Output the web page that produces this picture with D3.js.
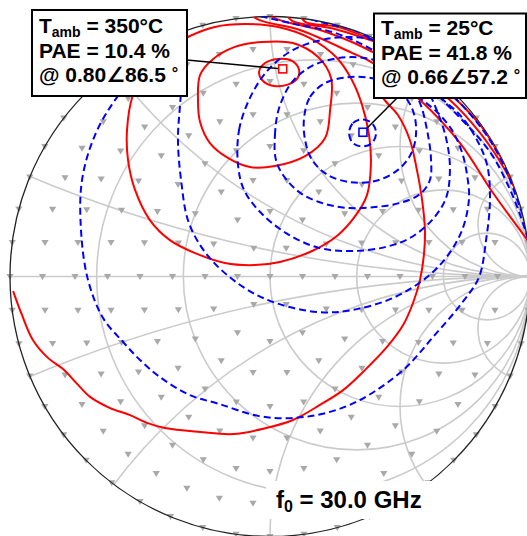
<!DOCTYPE html>
<html>
<head>
<meta charset="utf-8">
<script src="https://cdn.jsdelivr.net/npm/d3@7"></script>
<style>
  html, body { margin: 0; padding: 0; background: #fff; }
  svg { display: block; }
  text { font-family: "Liberation Sans", Arial, "DejaVu Sans", sans-serif; font-weight: bold; fill: #000; }
</style>
</head>
<body>
<svg id="chart" width="527" height="536"></svg>
<script>
// Smith chart grid (normalised resistance circles and reactance arcs)
const resistanceValues = [0.2, 0.5, 1, 2, 5];
const reactanceValues = [0.2, 0.5, 1, 2, 5];

// Load-pull tuner states: |Γ| of each ring and the number of states on it
const tunerRingMag = [0, 0.125, 0.25, 0.375, 0.5, 0.625, 0.75, 0.875, 1.0];
const tunerRingCount = [1, 6, 12, 18, 24, 30, 36, 42, 48];

// Optimum load reflection coefficients (|Γ|, angle in degrees) and their PAE
const ambientTemps = [350, 25];
const optimumMag = [0.80, 0.66];
const optimumAngle = [86.5, 57.2];
const optimumPAE = [10.4, 41.8];
const frequencyGHz = 30.0;

// PAE contours at T_amb = 350 °C, as [Re Γ, Im Γ]
const hotContour1 = [[-0.042,0.787],[-0.019,0.821],[0.031,0.837],[0.085,0.829],[0.112,0.794],[0.104,0.760],[0.065,0.737],[0.015,0.733],[-0.027,0.752]];
const hotContour2 = [[-0.277,0.679],[-0.269,0.775],[-0.223,0.833],[-0.135,0.883],[-0.031,0.902],[0.088,0.898],[0.185,0.844],[0.235,0.763],[0.231,0.640],[0.212,0.533],[0.135,0.463],[0.019,0.425],[-0.077,0.421],[-0.162,0.456],[-0.231,0.513],[-0.269,0.594]];
const hotContour3 = [[0.254,0.844],[0.315,0.756],[0.354,0.660],[0.381,0.544],[0.388,0.429],[0.373,0.313],[0.331,0.237],[0.262,0.160],[0.162,0.098],[0.038,0.056],[-0.058,0.044],[-0.173,0.052],[-0.288,0.090],[-0.385,0.140],[-0.462,0.217],[-0.519,0.333],[-0.546,0.448],[-0.550,0.563],[-0.527,0.698],[-0.469,0.802],[-0.385,0.879],[-0.308,0.925],[-0.212,0.960],[-0.096,0.971],[0.031,0.960],[0.154,0.917]];
const hotContour4 = [[-0.988,-0.056],[-0.954,-0.148],[-0.912,-0.244],[-0.854,-0.313],[-0.796,-0.356],[-0.738,-0.417],[-0.692,-0.463],[-0.615,-0.506],[-0.538,-0.533],[-0.473,-0.563],[-0.404,-0.583],[-0.269,-0.598],[-0.142,-0.606],[-0.015,-0.583],[0.088,-0.552],[0.192,-0.494],[0.281,-0.437],[0.365,-0.360],[0.450,-0.271],[0.512,-0.187],[0.550,-0.102],[0.577,-0.013],[0.592,0.083],[0.596,0.179],[0.585,0.294],[0.565,0.410],[0.538,0.525],[0.492,0.621],[0.435,0.687],[0.408,0.756],[0.415,0.852],[0.438,0.948]];
const hotContour5 = [[-0.115,1.033],[-0.042,0.987],[0.115,0.948],[0.315,0.860],[0.396,0.821],[0.577,0.679],[0.731,0.513],[0.858,0.321],[1.019,0.102]];
const hotContour6 = [[-0.031,1.025],[0.027,0.990],[0.192,0.948],[0.315,0.902],[0.396,0.863],[0.538,0.794],[0.692,0.679],[0.808,0.552],[0.904,0.410],[0.981,0.256]];
const hotContour7 = [[0.058,1.017],[0.085,0.983],[0.231,0.956],[0.315,0.933],[0.396,0.906],[0.577,0.833],[0.731,0.717],[0.846,0.583],[0.942,0.429]];
const hotContour8 = [[0.115,1.010],[0.135,0.979],[0.250,0.962],[0.315,0.942],[0.396,0.910],[0.500,0.852],[0.654,0.737],[0.808,0.583],[0.904,0.429]];

// PAE contours at T_amb = 25 °C, as [Re Γ, Im Γ]
const coldContour1 = [[0.304,0.552],[0.319,0.590],[0.354,0.604],[0.392,0.590],[0.408,0.552],[0.392,0.513],[0.354,0.500],[0.319,0.513]];
const coldContour2 = [[0.131,0.610],[0.154,0.690],[0.212,0.744],[0.308,0.767],[0.404,0.760],[0.488,0.721],[0.542,0.656],[0.562,0.571],[0.546,0.479],[0.492,0.410],[0.404,0.367],[0.308,0.363],[0.223,0.390],[0.162,0.448],[0.135,0.525]];
const coldContour3 = [[0.023,0.448],[0.019,0.544],[0.035,0.648],[0.085,0.748],[0.162,0.810],[0.262,0.840],[0.365,0.840],[0.462,0.810],[0.531,0.748],[0.577,0.667],[0.604,0.563],[0.619,0.456],[0.615,0.371],[0.577,0.317],[0.500,0.283],[0.404,0.267],[0.308,0.263],[0.212,0.279],[0.123,0.317],[0.058,0.379]];
const coldContour4 = [[-0.123,0.429],[-0.119,0.563],[-0.077,0.687],[-0.008,0.794],[0.088,0.871],[0.200,0.910],[0.315,0.921],[0.423,0.902],[0.519,0.840],[0.585,0.756],[0.638,0.648],[0.677,0.533],[0.692,0.417],[0.677,0.302],[0.623,0.217],[0.538,0.148],[0.442,0.113],[0.315,0.098],[0.188,0.110],[0.062,0.167],[-0.038,0.248],[-0.100,0.333]];
const coldContour5 = [[-0.323,0.994],[-0.327,0.910],[-0.335,0.794],[-0.346,0.660],[-0.354,0.525],[-0.342,0.371],[-0.312,0.206],[-0.235,0.075],[-0.104,-0.040],[0.023,-0.102],[0.188,-0.137],[0.315,-0.129],[0.481,-0.079],[0.635,0.025],[0.731,0.160],[0.765,0.294],[0.758,0.390],[0.738,0.479],[0.700,0.563],[0.642,0.633],[0.577,0.687],[0.519,0.756],[0.481,0.852],[0.462,0.948]];
const coldContour6 = [[-0.277,0.987],[-0.377,0.910],[-0.462,0.833],[-0.588,0.690],[-0.673,0.544],[-0.723,0.371],[-0.727,0.179],[-0.700,-0.013],[-0.642,-0.160],[-0.565,-0.252],[-0.500,-0.321],[-0.423,-0.387],[-0.308,-0.456],[-0.196,-0.490],[-0.042,-0.537],[0.088,-0.544],[0.215,-0.525],[0.346,-0.475],[0.512,-0.360],[0.627,-0.233],[0.738,-0.102],[0.804,-0.002],[0.831,0.140],[0.846,0.294],[0.835,0.429],[0.792,0.533],[0.731,0.621],[0.662,0.683],[0.600,0.756],[0.562,0.840]];
const coldContour7 = [[-0.077,1.010],[0.077,0.975],[0.250,0.937],[0.396,0.871],[0.577,0.756],[0.731,0.610],[0.846,0.479],[0.915,0.352],[0.962,0.237],[1.000,0.121]];
const coldContour8 = [[0.077,1.017],[0.192,0.979],[0.327,0.946],[0.396,0.910],[0.538,0.829],[0.692,0.706],[0.827,0.552],[0.904,0.417],[0.954,0.287],[1.000,0.160]];

const hotClosed = [hotContour1, hotContour2, hotContour3];
const hotOpen = [hotContour4, hotContour5, hotContour6, hotContour7, hotContour8];
const coldClosed = [coldContour1, coldContour2, coldContour3, coldContour4];
const coldOpen = [coldContour5, coldContour6, coldContour7, coldContour8];

// ---- layout ----
const svg = d3.select("#chart");
const cx = 270, cy = 276.5, R = 260;
const x = d3.scaleLinear().domain([-1, 1]).range([cx - R, cx + R]);
const y = d3.scaleLinear().domain([-1, 1]).range([cy + R, cy - R]);
const len = v => x(v) - x(0);

svg.append("defs").append("clipPath").attr("id", "unit")
  .append("circle").attr("cx", x(0)).attr("cy", y(0)).attr("r", len(1));

// grid
const grid = svg.append("g").attr("clip-path", "url(#unit)")
  .attr("fill", "none").attr("stroke", "#cbcbcb").attr("stroke-width", 1.6);
resistanceValues.forEach(r => {
  grid.append("circle").attr("cx", x(r / (1 + r))).attr("cy", y(0)).attr("r", len(1 / (1 + r)));
});
reactanceValues.forEach(v => {
  [v, -v].forEach(s => {
    grid.append("circle").attr("cx", x(1)).attr("cy", y(1 / s)).attr("r", len(1 / Math.abs(s)));
  });
});
grid.append("line").attr("x1", x(-1)).attr("x2", x(1)).attr("y1", y(0)).attr("y2", y(0));

// tuner states
const tuner = [];
tunerRingMag.forEach((m, i) => {
  const n = tunerRingCount[i];
  for (let k = 0; k < n; k++) {
    const a = 2 * Math.PI * k / n;
    tuner.push([m * Math.cos(a), m * Math.sin(a)]);
  }
});
svg.append("g").selectAll("path").data(tuner).join("path")
  .attr("d", "M-3.6,-2.6H3.6L0,3.4Z")
  .attr("transform", d => `translate(${x(d[0])},${y(d[1])})`)
  .attr("fill", "#a9a9a9");

// boundary
svg.append("circle").attr("cx", x(0)).attr("cy", y(0)).attr("r", len(1))
  .attr("fill", "none").attr("stroke", "#222").attr("stroke-width", 1.3);

// contours
const openLine = d3.line().x(d => x(d[0])).y(d => y(d[1])).curve(d3.curveCatmullRom.alpha(0.5));
const closedLine = d3.line().x(d => x(d[0])).y(d => y(d[1])).curve(d3.curveCatmullRomClosed.alpha(0.5));
const cont = svg.append("g").attr("clip-path", "url(#unit)").attr("fill", "none").attr("stroke-width", 2);
const drawSet = (sets, gen, color, dash) => {
  cont.append("g").selectAll("path").data(sets).join("path")
    .attr("d", gen).attr("stroke", color).attr("stroke-dasharray", dash);
};
drawSet(hotClosed, closedLine, "#ff0000", null);
drawSet(hotOpen, openLine, "#ff0000", null);
drawSet(coldClosed, closedLine, "#0000ff", "7,4");
drawSet(coldOpen, openLine, "#0000ff", "7,4");

// optimum markers with leader lines
const optPts = optimumMag.map((m, i) => {
  const a = optimumAngle[i] * Math.PI / 180;
  return [x(m * Math.cos(a)), y(m * Math.sin(a))];
});
const leaderStart = [[187, 60], [397, 98]];
const markerColor = ["#ff0000", "#0000ff"];
optPts.forEach((p, i) => {
  svg.append("line").attr("x1", leaderStart[i][0]).attr("y1", leaderStart[i][1])
    .attr("x2", p[0]).attr("y2", p[1]).attr("stroke", "#000").attr("stroke-width", 1.5);
  svg.append("rect").attr("x", p[0] - 4).attr("y", p[1] - 4).attr("width", 8).attr("height", 8)
    .attr("fill", "#fff").attr("stroke", markerColor[i]).attr("stroke-width", 1.6);
});

// annotation boxes
const boxes = [{x: 32, y: 10, w: 155, h: 86, tx: 39, base: 33}, {x: 374, y: 13.5, w: 152, h: 84.5, tx: 381, base: 35}];
boxes.forEach((b, i) => {
  svg.append("rect").attr("x", b.x).attr("y", b.y).attr("width", b.w).attr("height", b.h)
    .attr("fill", "#fff").attr("stroke", "#000").attr("stroke-width", 2);
  const t1 = svg.append("text").attr("x", b.tx).attr("y", b.base).attr("font-size", 21);
  t1.append("tspan").text("T");
  t1.append("tspan").attr("font-size", 14).attr("dy", 4).text("amb");
  t1.append("tspan").attr("dy", -4).text(` = ${ambientTemps[i]}°C`);
  svg.append("text").attr("x", b.tx).attr("y", b.base + 24.5).attr("font-size", 21)
    .text(`PAE = ${optimumPAE[i].toFixed(1)} %`);
  const t3 = svg.append("text").attr("x", b.tx).attr("y", b.base + 49).attr("font-size", 21);
  t3.append("tspan").text(`@ ${optimumMag[i].toFixed(2)}∠${optimumAngle[i].toFixed(1)} `);
  t3.append("tspan").attr("font-size", 16).attr("dy", -3).text("°");
});

// frequency label
svg.append("rect").attr("x", 266).attr("y", 481).attr("width", 174).attr("height", 38).attr("fill", "#fff");
const f = svg.append("text").attr("x", 276).attr("y", 508).attr("font-size", 24);
f.append("tspan").text("f");
f.append("tspan").attr("font-size", 16).attr("dy", 4).text("0");
f.append("tspan").attr("dy", -4).text(` = ${frequencyGHz.toFixed(1)} GHz`);
</script>
</body>
</html>
